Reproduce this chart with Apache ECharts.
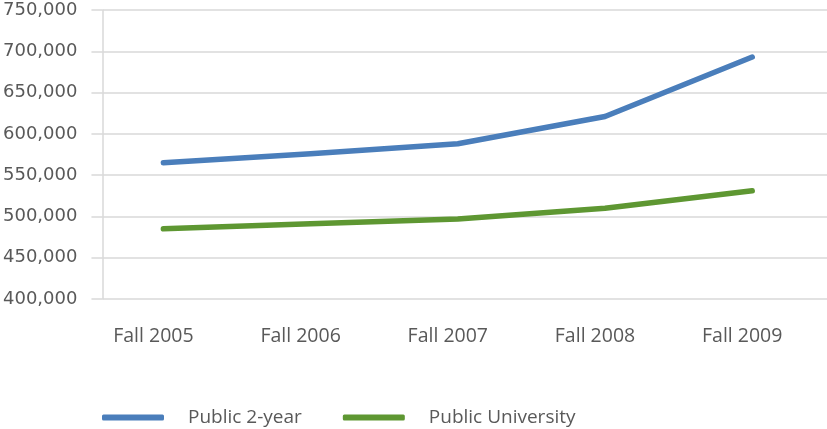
<!DOCTYPE html>
<html>
<head>
<meta charset="utf-8">
<script src="https://cdn.jsdelivr.net/npm/echarts@6/dist/echarts.min.js"></script>
<style>
  html, body { margin: 0; padding: 0; background: #fff; }
  #main { width: 827px; height: 429px; }
</style>
</head>
<body>
<div id="main"></div>
<script>
var categories = ['Fall 2005', 'Fall 2006', 'Fall 2007', 'Fall 2008', 'Fall 2009'];
var seriesNames = ['Public 2-year', 'Public University'];
var public2Year = [565000, 576000, 588000, 621000, 693000];
var publicUniversity = [485000, 491000, 497000, 510000, 531000];
var yTicks = [400000, 450000, 500000, 550000, 600000, 650000, 700000, 750000];

// points sit on 0..4, the axis is a bit wider like the original (left gap smaller than right)
function toPairs(arr){
	return arr.map(function(v, i){ return [i, v]; });
}

var chart = echarts.init(document.getElementById('main'));
var grey = '#d9d9d9';
var txt = '#595959';

var option = {
	animation: false,
	color: ['#4A7EBB', '#5E9732'],
	grid: { left: 101, right: 0, top: 10, bottom: 130, containLabel: false },
	legend: {
		data: seriesNames,
		left: 97,
		top: 403,
		icon: 'roundRect',
		itemWidth: 62,
		itemHeight: 6,
		itemGap: 41,
		textStyle: { fontFamily: 'Open Sans', fontSize: 19, color: txt, padding: [0, 0, 0, 19] }
	},
	xAxis: {
		type: 'value',
		min: -0.414,
		max: 4.508,
		splitLine: { show: false },
		axisLine: { show: false },
		axisTick: { show: false },
		axisLabel: {
			customValues: [0, 1, 2, 3, 4],
			formatter: function(v){ return categories[Math.round(v)]; },
			fontFamily: 'Open Sans',
			fontSize: 19.5,
			color: txt,
			margin: 27,
			padding: [0, 20, 0, 0]
		}
	},
	yAxis: {
		type: 'value',
		min: yTicks[0],
		max: yTicks[yTicks.length - 1],
		interval: 50000,
		axisLine: { show: true, onZero: false, lineStyle: { color: grey, width: 1.5 } },
		axisTick: { show: true, length: 11, lineStyle: { color: grey, width: 1.5 } },
		splitLine: { show: true, lineStyle: { color: grey, width: 1.5 } },
		axisLabel: {
			fontFamily: 'DejaVu Sans',
			fontSize: 18,
			color: txt,
			margin: 25,
			formatter: function(v){ return v.toLocaleString('en-US'); }
		}
	},
	series: [
		{
			name: seriesNames[0],
			type: 'line',
			data: toPairs(public2Year),
			showSymbol: false,
			lineStyle: { width: 5.5, cap: 'round', join: 'round' }
		},
		{
			name: seriesNames[1],
			type: 'line',
			data: toPairs(publicUniversity),
			showSymbol: false,
			lineStyle: { width: 5.5, cap: 'round', join: 'round' }
		}
	]
};
chart.setOption(option);
</script>
</body>
</html>
